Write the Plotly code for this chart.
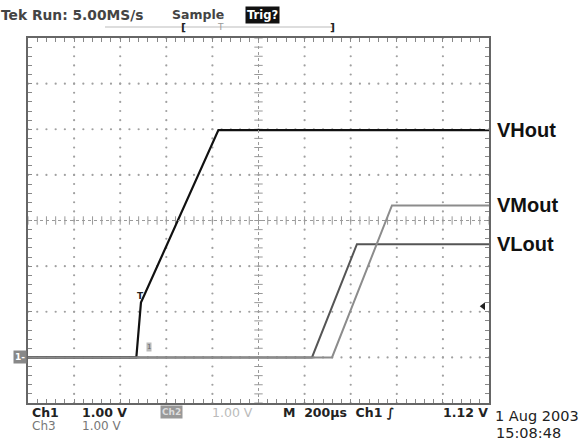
import numpy as np
import plotly.graph_objects as go

# ---- data (time in µs, volts relative to ground) ----
t_vh = [0, 470, 490, 826, 2000]
v_vh = [0.0, 0.0, 1.2, 4.98, 4.98]

t_vm = [0, 1319, 1579, 2000]
v_vm = [0.0, 0.0, 3.33, 3.33]

t_vl = [0, 1232, 1427, 2000]
v_vl = [0.0, 0.0, 2.48, 2.48]

trace_names = ["VHout", "VMout", "VLout"]
trigger_level = 1.12

X0, X1 = 0, 2000          # 10 div x 200 µs
Y0, Y1 = -1, 7            # 8 div x 1 V (ground at -3 div)

fig = go.Figure()

# ---- graticule dots ----
gx, gy = [], []
for xd in range(1, 10):
    if xd == 5:
        continue
    for yy in np.arange(Y0, Y1 + 0.001, 0.2):
        gx.append(xd * 200); gy.append(yy)
for yd in range(1, 8):
    if yd == 4:
        continue
    for xx in np.arange(X0, X1 + 0.001, 40):
        gx.append(xx); gy.append(Y0 + yd)
fig.add_trace(go.Scatter(x=gx, y=gy, mode="markers", hoverinfo="skip",
                         marker=dict(size=2.2, color="#a0a0a0"), showlegend=False))

# center cross lines with ticks
fig.add_shape(type="line", x0=X0, x1=X1, y0=3, y1=3, line=dict(color="#9a9a9a", width=1, dash="dot"))
fig.add_shape(type="line", x0=1000, x1=1000, y0=Y0, y1=Y1, line=dict(color="#9a9a9a", width=1, dash="dot"))
cx = list(np.arange(X0, X1 + 0.001, 40))
fig.add_trace(go.Scatter(x=cx, y=[3] * len(cx), mode="markers", hoverinfo="skip",
                         marker=dict(symbol="line-ns", size=6, line=dict(width=1, color="#999")),
                         showlegend=False))
cy = list(np.arange(Y0, Y1 + 0.001, 0.2))
fig.add_trace(go.Scatter(x=[1000] * len(cy), y=cy, mode="markers", hoverinfo="skip",
                         marker=dict(symbol="line-ew", size=6, line=dict(width=1, color="#999")),
                         showlegend=False))

# ---- signal traces ----
fig.add_trace(go.Scatter(x=t_vh, y=v_vh, mode="lines", line=dict(color="#111111", width=2.2),
                         name=trace_names[0], showlegend=False))
fig.add_trace(go.Scatter(x=t_vl, y=v_vl, mode="lines", line=dict(color="#555555", width=2),
                         name=trace_names[2], showlegend=False))
fig.add_trace(go.Scatter(x=t_vm, y=v_vm, mode="lines", line=dict(color="#8c8c8c", width=2),
                         name=trace_names[1], showlegend=False))

# ---- channel labels ----
for name, t, v in [(trace_names[0], t_vh, v_vh), (trace_names[1], t_vm, v_vm), (trace_names[2], t_vl, v_vl)]:
    fig.add_annotation(x=1.0, xref="paper", y=v[-1], yref="y", text="<b>%s</b>" % name,
                       showarrow=False, xanchor="left", xshift=6,
                       font=dict(family="Liberation Sans, Arial", size=20, color="#111"))

# markers: trigger arrow, ground, T
fig.add_trace(go.Scatter(x=[1975], y=[trigger_level], mode="markers", hoverinfo="skip",
                         marker=dict(symbol="triangle-left", size=7, color="#222"), showlegend=False))
fig.add_annotation(x=490, y=1.2, text="<b>T</b>", showarrow=False, yanchor="bottom",
                   font=dict(family="DejaVu Sans", size=9, color="#222"))
fig.add_annotation(x=0, y=0, text="<b>1-</b>", showarrow=False, xanchor="right", xshift=-1,
                   bgcolor="#888", font=dict(family="DejaVu Sans", size=9, color="#fff"),
                   borderpad=1)
fig.add_annotation(x=525, y=0.12, text="1", showarrow=False, yanchor="bottom",
                   bgcolor="#bbb", font=dict(family="DejaVu Sans", size=7, color="#666"), borderpad=0)

# ---- header / footer text (pixel positions converted to paper coords) ----
ff = "DejaVu Sans"
L, R, T, B = 28, 489, 38, 403
def px(xp, yp):
    return (xp - L) / (R - L), (B - yp) / (B - T)

def ptxt(xp, yp, s, size=12, color="#333", anchor="left", bold=True, bg=None, family=ff, pad=0):
    x, y = px(xp, yp)
    fig.add_annotation(x=x, y=y, xref="paper", yref="paper",
                       text=("<b>%s</b>" % s) if bold else s, showarrow=False,
                       xanchor=anchor, yanchor="middle", bgcolor=bg, borderpad=pad,
                       font=dict(family=family, size=size, color=color))

ptxt(0, 15, "Tek Run: 5.00MS/s", 13.8, "#444")
ptxt(171, 15, "Sample", 12.5, "#444")
ptxt(245, 15, "Trig?", 11.5, "#fff", bg="#111", pad=1)
ptxt(180, 28, "[", 11, "#222")
ptxt(216, 27, "T", 9, "#999", bold=False)
ptxt(329, 28, "]", 11, "#222")
ptxt(31, 412, "Ch1", 12.5, "#222")
ptxt(81, 412, "1.00 V", 12.5, "#222")
ptxt(160, 412, "Ch2", 9, "#ddd", bg="#999", pad=1)
ptxt(211, 412, "1.00 V", 12.5, "#bbb", bold=False)
ptxt(31, 426, "Ch3", 12, "#777", bold=False)
ptxt(81, 426, "1.00 V", 12, "#777", bold=False)
ptxt(282, 412, "M  200µs  Ch1 ∫", 12.5, "#222")
ptxt(489, 412, "1.12 V", 12.5, "#222", anchor="right")
ptxt(494, 416, "1 Aug 2003", 14.5, "#222", bold=False)
ptxt(495, 433, "15:08:48", 14.5, "#222", bold=False)

# timebase bar line
x0p, _ = px(105, 27); x1p, _ = px(333, 27); _, yb = px(0, 27)
fig.add_shape(type="line", xref="paper", yref="paper", x0=x0p, x1=x1p, y0=yb, y1=yb,
              line=dict(color="#bbb", width=1))

fig.update_xaxes(range=[X0, X1], showgrid=False, zeroline=False, showticklabels=False,
                 showline=True, linecolor="#666", linewidth=2, mirror="ticks",
                 ticks="inside", dtick=40, tick0=0, ticklen=4, tickcolor="#888", tickwidth=1)
fig.update_yaxes(range=[Y0, Y1], showgrid=False, zeroline=False, showticklabels=False,
                 showline=True, linecolor="#666", linewidth=2, mirror="ticks",
                 ticks="inside", dtick=0.2, tick0=0, ticklen=4, tickcolor="#888", tickwidth=1)

fig.update_layout(width=585, height=443, margin=dict(l=L, r=585 - R, t=T, b=443 - B),
                  paper_bgcolor="white", plot_bgcolor="white", showlegend=False)

fig.write_html("out.html", config={"displayModeBar": False},
               post_script="document.body.style.margin='0';")
